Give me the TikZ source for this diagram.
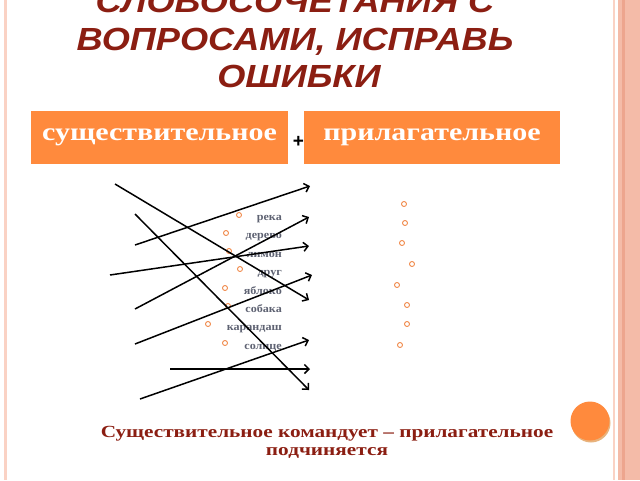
\documentclass[tikz,border=0pt]{standalone}
\usepackage{fontspec}
\setmainfont{Liberation Serif}
\setsansfont{Liberation Sans}
\usetikzlibrary{positioning, arrows.meta}
\definecolor{titlered}{HTML}{8B1E12}
\definecolor{boxorange}{HTML}{FF8A3D}
\definecolor{framepink}{HTML}{F4BBA8}
\definecolor{framedark}{HTML}{EDA58E}
\definecolor{framelight}{HTML}{FAD2C4}
\definecolor{wordgray}{HTML}{5E6272}
\definecolor{ringorange}{HTML}{F08A4B}

\begin{document}
\begin{tikzpicture}[
    x=1pt, y=-1pt,
    >={Straight Barb[length=4.5pt, width=9pt]},
    titleline/.style={anchor=base, inner sep=0pt, text=titlered,
      font=\sffamily\addfontfeature{FakeStretch=1.13}\bfseries\itshape\fontsize{32}{32}\selectfont},
    headbox/.style={fill=boxorange, text=white, minimum height=53pt, inner sep=0pt,
      font=\addfontfeature{FakeStretch=1.2}\bfseries\fontsize{25}{25}\selectfont},
    ring/.style={circle, draw=ringorange, line width=0.9pt, inner sep=0pt, minimum size=5pt},
    word/.style={anchor=base east, inner sep=0pt, text=wordgray,
      font=\addfontfeature{FakeStretch=1.1}\bfseries\fontsize{11}{11}\selectfont},
    rule/.style={anchor=base, inner sep=0pt, text=titlered,
      font=\addfontfeature{FakeStretch=1.25}\bfseries\fontsize{17}{17}\selectfont},
    link/.style={->, line width=1.5pt},
  ]
  \useasboundingbox (0,0) rectangle (640,480);
  \begin{scope}
  \clip (0,0) rectangle (640,480);

  % frame
  \fill[framelight] (4,0) rectangle (6.5,480);
  \fill[framelight] (612.5,0) rectangle (615,480);
  \fill[framepink] (618,0) rectangle (640,480);
  \fill[framedark] (621.5,0) rectangle (625,480);

  % title
  \node[titleline] (title1) at (295,12) {СЛОВОСОЧЕТАНИЯ С};
  \node[titleline] (title2) at (295,50) {ВОПРОСАМИ, ИСПРАВЬ};
  \node[titleline] (title3) at (299,87) {ОШИБКИ};

  % header boxes
  \node[headbox, minimum width=257pt] (noun) at (159.5,137.5) {существительное};
  \node[headbox, minimum width=256pt] (adj) at (432,137.5) {прилагательное};
  \node[font=\sffamily\bfseries\fontsize{19}{19}\selectfont, inner sep=0pt] (plus) at (298.5,142) {+};

  % words
  \node[word] (w1) at (282,220) {река};
  \node[word] (w2) at (282,238) {дерево};
  \node[word] (w3) at (282,257) {лимон};
  \node[word] (w4) at (282,275) {друг};
  \node[word] (w5) at (282,294) {яблоко};
  \node[word] (w6) at (282,312) {собака};
  \node[word] (w7) at (282,330) {карандаш};
  \node[word] (w8) at (282,349) {солнце};

  % bullets, left column
  \node[ring] (b1) at (239,215) {};
  \node[ring] (b2) at (226,233) {};
  \node[ring] (b3) at (229,251) {};
  \node[ring] (b4) at (240,269) {};
  \node[ring] (b5) at (225,288) {};
  \node[ring] (b6) at (228,306) {};
  \node[ring] (b7) at (208,324) {};
  \node[ring] (b8) at (225,343) {};

  % bullets, right column
  \node[ring] (r1) at (404,204) {};
  \node[ring] (r2) at (405,223) {};
  \node[ring] (r3) at (402,243) {};
  \node[ring] (r4) at (412,264) {};
  \node[ring] (r5) at (397,285) {};
  \node[ring] (r6) at (407,305) {};
  \node[ring] (r7) at (407,324) {};
  \node[ring] (r8) at (400,345) {};

  % arrows
  \coordinate (s1) at (115,184);
  \coordinate (s2) at (135,214);
  \coordinate (s3) at (135,245);
  \coordinate (s4) at (110,275);
  \coordinate (s5) at (135,309);
  \coordinate (s6) at (135,344);
  \coordinate (s7) at (170,369);
  \coordinate (s8) at (140,399);
  \coordinate (e1) at (309,300);
  \coordinate (e2) at (309,390);
  \coordinate (e3) at (310,186);
  \coordinate (e4) at (309,246);
  \coordinate (e5) at (309,217);
  \coordinate (e6) at (312,275);
  \coordinate (e7) at (310,369);
  \coordinate (e8) at (309,340);
  \draw[link] (s1) -- (e1);
  \draw[link] (s2) -- (e2);
  \draw[link] (s3) -- (e3);
  \draw[link] (s4) -- (e4);
  \draw[link] (s5) -- (e5);
  \draw[link] (s6) -- (e6);
  \draw[link] (s7) -- (e7);
  \draw[link] (s8) -- (e8);

  % rule
  \node[rule] (rule1) at (327,437) {Существительное командует – прилагательное};
  \node[rule] (rule2) at (327,455) {подчиняется};

  % round mark
  \fill[brown!60!orange, opacity=0.6] (591,423) circle (19.5);
  \node[circle, fill=boxorange, minimum size=39pt, inner sep=0pt] (dot) at (590,421) {};
  \end{scope}
\end{tikzpicture}
\end{document}
